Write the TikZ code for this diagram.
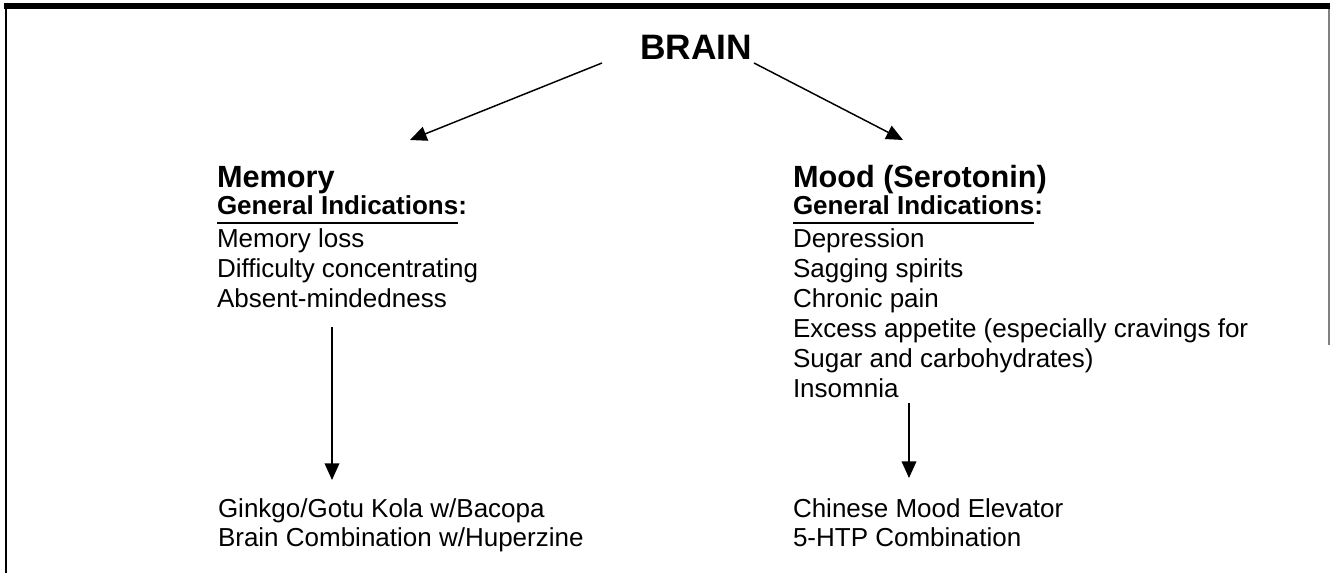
\documentclass[tikz,border=0pt]{standalone}
\usepackage{fontspec}
\setmainfont{Liberation Sans}
\usetikzlibrary{arrows.meta}
\newcommand\myul[1]{\setbox0\hbox{#1}\rlap{\rule[-6.75pt]{\wd0}{1.5pt}}\box0}
\begin{document}
\begin{tikzpicture}[x=0.75pt,y=-0.75pt,
  txt/.style={anchor=base west,inner sep=0pt,outer sep=0pt},
  body/.style={txt,font=\fontsize{19.5}{22.5}\selectfont},
  head/.style={txt,font=\fontsize{23}{27}\selectfont\bfseries},
  sub/.style={txt,font=\fontsize{19.5}{22.5}\selectfont\bfseries},
  ttl/.style={txt,font=\fontsize{26.5}{31}\selectfont\bfseries},
  arr/.style={line width=1.1pt,-{Triangle[length=12.5pt,width=11pt]}}]
\useasboundingbox (0,0) rectangle (1330,573);
% frame
\fill (4,3.5) rectangle (1330,9);
\draw[line width=1.4pt] (5.7,9) -- (5.7,573);
\draw[gray,line width=1.1pt] (1329,9) -- (1329,345);
% title
\node[ttl] (brain) at (640,60) {BRAIN};
% left column
\node[head] (mem) at (217,187.5) {Memory};
\node[sub] (memgi) at (217,215) {\myul{General Indications}:};
\node[body] (m1) at (217,247.5) {Memory loss};
\node[body] (m2) at (217,277.5) {Difficulty concentrating};
\node[body] (m3) at (217,307.5) {Absent-mindedness};
\node[body] (p1) at (218,517) {Ginkgo/Gotu Kola w/Bacopa};
\node[body] (p2) at (218,546) {Brain Combination w/Huperzine};
% right column
\node[head] (mood) at (793,187.5) {Mood (Serotonin)};
\node[sub] (moodgi) at (793,215) {\myul{General Indications}:};
\node[body] (d1) at (793,247.5) {Depression};
\node[body] (d2) at (793,277.5) {Sagging spirits};
\node[body] (d3) at (793,307.5) {Chronic pain};
\node[body] (d4) at (793,337.5) {Excess appetite (especially cravings for};
\node[body] (d5) at (793,367.5) {Sugar and carbohydrates)};
\node[body] (d6) at (793,397) {Insomnia};
\node[body] (q1) at (793,517) {Chinese Mood Elevator};
\node[body] (q2) at (793,546) {5-HTP Combination};
% connector ends
\coordinate (bl) at (602,63);
\coordinate (br) at (754,63);
\coordinate (memtop) at (410,140);
\coordinate (moodtop) at (903,140);
\coordinate (mbot) at (332,327);
\coordinate (ptop) at (332,480);
\coordinate (dbot) at (909,403);
\coordinate (qtop) at (909,478);
\draw[arr] (bl) -- (memtop);
\draw[arr] (br) -- (moodtop);
\draw[arr] (mbot) -- (ptop);
\draw[arr] (dbot) -- (qtop);
\end{tikzpicture}
\end{document}
